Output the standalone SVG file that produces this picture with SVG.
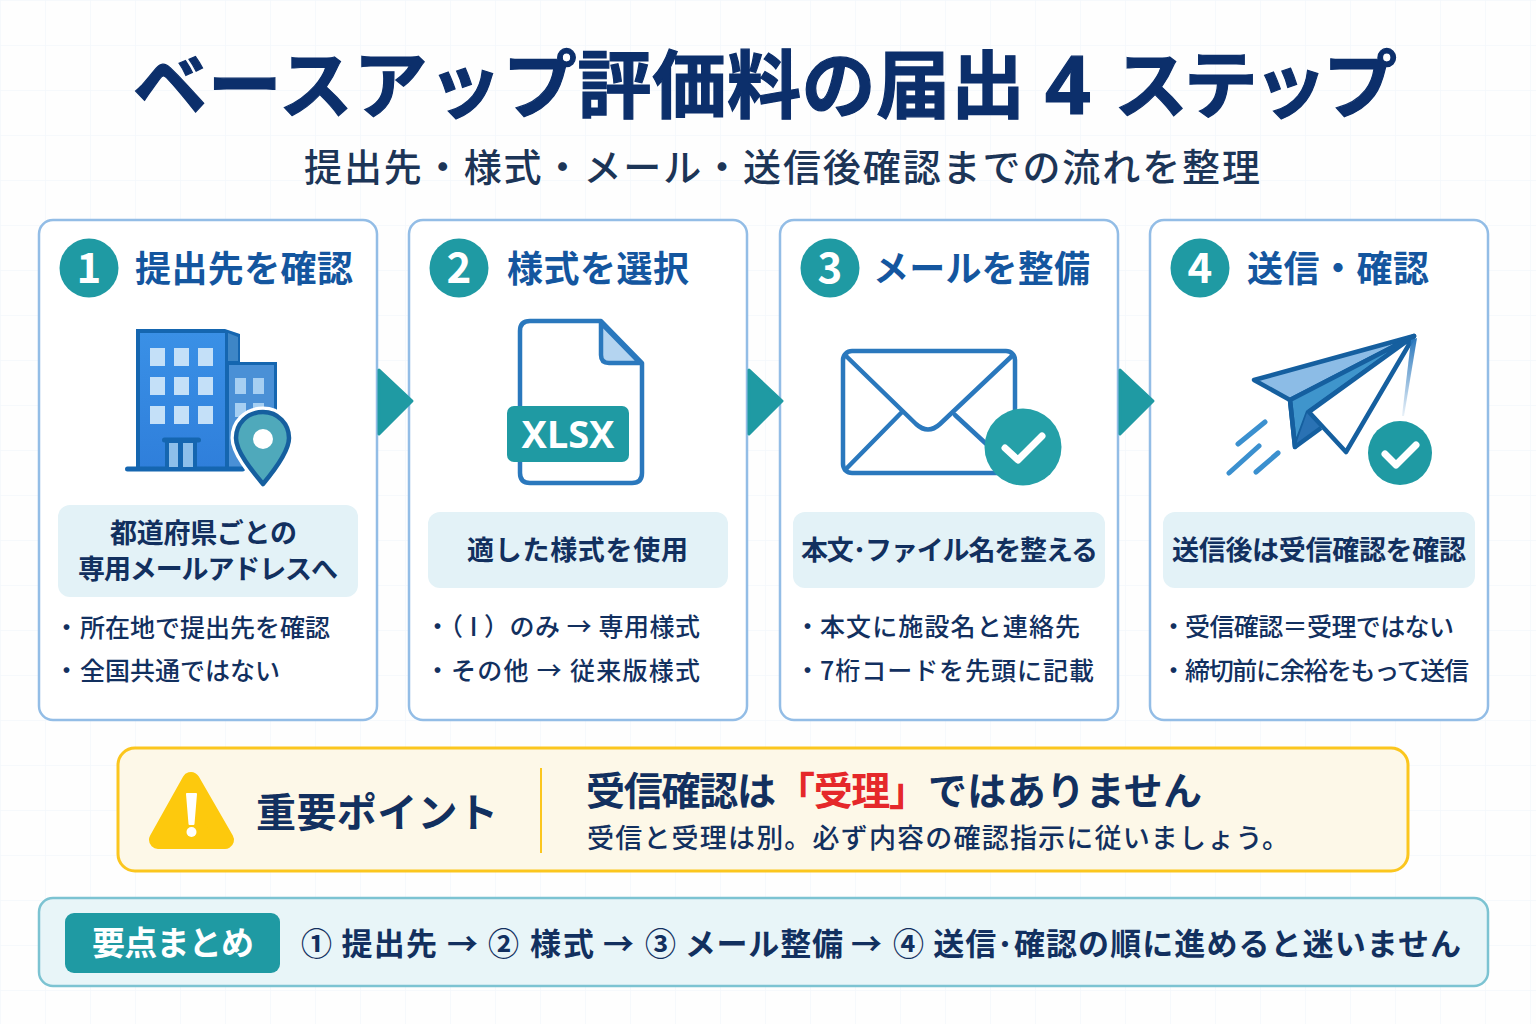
<svg xmlns="http://www.w3.org/2000/svg" width="1536" height="1024" viewBox="0 0 1536 1024">
<style>
text{font-family:"Noto Sans CJK JP","Noto Sans",sans-serif}
.card{fill:#fff;stroke:#93bde6;stroke-width:2.5}
.num{fill:#1f9aa3}
.numt{fill:#fff;font-size:42px;font-weight:700;text-anchor:middle}
.head{fill:#14569f;font-size:36px;font-weight:700}
.pill{fill:#e3f2f7}
.pt{fill:#12305f;font-size:27px;font-weight:600}
.bul{fill:#12305f;font-size:25px;font-weight:500}
.arrow{fill:#1f9aa3;stroke:#1f9aa3;stroke-width:3;stroke-linejoin:round}
.ln{fill:none;stroke:#2a78bd;stroke-width:4.5;stroke-linejoin:round;stroke-linecap:round}
.chk{fill:none;stroke:#fff;stroke-width:7;stroke-linecap:round;stroke-linejoin:round}
.ttl{font-size:74px;font-weight:700;fill:#0c2f6b;stroke:#0c2f6b;stroke-width:1.2}
.imp{font-size:39px;font-weight:700;fill:#12305f}
.sum{font-size:31px;font-weight:600;fill:#12305f}
</style>
<defs>
<pattern id="grid" width="45" height="45" patternUnits="userSpaceOnUse"><path d="M45 0H0V45" fill="none" stroke="#f4f8fc" stroke-width="1.5"/></pattern>
<linearGradient id="bld" x1="0" y1="0" x2="0" y2="1"><stop offset="0" stop-color="#3a90e6"/><stop offset="1" stop-color="#2f7fdb"/></linearGradient>
<linearGradient id="streak" x1="0" y1="0" x2="0" y2="1"><stop offset="0" stop-color="#2a78bd"/><stop offset="1" stop-color="#2a78bd" stop-opacity="0.1"/></linearGradient>
</defs>
<rect width="1536" height="1024" fill="#fefefe"/>
<rect width="1536" height="1024" fill="url(#grid)"/>
<g id="title">
<text class="ttl" x="133" y="112" textLength="892">ベースアップ評価料の届出</text>
<text class="ttl" x="1045" y="114" style="font-family:'Noto Sans',sans-serif;font-size:80px">4</text>
<text class="ttl" x="1114" y="112" textLength="283">ステップ</text>
<text x="304" y="181" font-size="38" font-weight="500" fill="#1c3557" textLength="956">提出先・様式・メール・送信後確認までの流れを整理</text>
</g>
<g id="step1">
<rect class="card" x="39" y="220" width="338" height="500" rx="14"/>
<circle class="num" cx="89" cy="268" r="29.500"/><text class="numt" x="89" y="283">1</text>
<text class="head" x="135" y="282" textLength="218">提出先を確認</text>
<g id="icon-building">
<path d="M136 329H225L240 334V362H277V468H136Z" fill="#1566b0"/>
<rect x="140" y="333" width="85" height="134" fill="url(#bld)"/>
<path d="M228 333L238 337V361H228Z" fill="#3e86c6"/>
<rect x="229" y="365" width="45" height="102" fill="#4a90d6"/>
<g fill="#c4e0f8"><rect x="150" y="348" width="15" height="18"/><rect x="174" y="348" width="15" height="18"/><rect x="198" y="348" width="15" height="18"/><rect x="150" y="377" width="15" height="18"/><rect x="174" y="377" width="15" height="18"/><rect x="198" y="377" width="15" height="18"/><rect x="150" y="406" width="15" height="18"/><rect x="174" y="406" width="15" height="18"/><rect x="198" y="406" width="15" height="18"/></g>
<g fill="#a6cff2"><rect x="235" y="378" width="11" height="16"/><rect x="253" y="378" width="11" height="16"/><rect x="235" y="403" width="11" height="14"/><rect x="253" y="403" width="11" height="14"/></g>
<rect x="125" y="466.500" width="120" height="5" rx="2.500" fill="#1566b0"/>
<rect x="162" y="437.500" width="39" height="5" rx="2.500" fill="#1566b0"/>
<path d="M165 441H197V468H165Z" fill="#1566b0"/><rect x="169" y="443" width="9" height="24" fill="#8dbfea"/><rect x="183" y="443" width="10" height="24" fill="#8dbfea"/>
<path d="M263 412C247 412 236 424 236 438C236 452 253 472 263 484C273 472 289 452 289 438C289 424 278 412 263 412Z" fill="#4fa9bb" stroke="#fff" stroke-width="11" stroke-linejoin="round"/>
<path d="M263 412C247 412 236 424 236 438C236 452 253 472 263 484C273 472 289 452 289 438C289 424 278 412 263 412Z" fill="#4fa9bb" stroke="#155f9f" stroke-width="4.500" stroke-linejoin="round"/>
<circle cx="263" cy="439" r="10" fill="#fff"/>
</g>
<rect class="pill" x="58" y="505" width="300" height="92" rx="12"/>
<text class="pt" x="110" y="543" textLength="187">都道府県ごとの</text>
<text class="pt" x="78" y="579" textLength="260">専用メールアドレスへ</text>
<text class="bul" x="54" y="637">・</text><text class="bul" x="80" y="637" textLength="250">所在地で提出先を確認</text>
<text class="bul" x="54" y="680">・</text><text class="bul" x="80" y="680" textLength="200">全国共通ではない</text>
</g>
<g id="step2">
<rect class="card" x="409" y="220" width="338" height="500" rx="14"/>
<circle class="num" cx="459" cy="268" r="29.500"/><text class="numt" x="459" y="283">2</text>
<text class="head" x="507" y="282" textLength="182">様式を選択</text>
<g id="icon-xlsx">
<path class="ln" d="M530 321H601L642 363V473Q642 483 632 483H530Q520 483 520 473V331Q520 321 530 321Z" fill="#fff"/>
<path d="M601 323V355Q601 363 609 363H640Z" fill="#b4d4f0" stroke="#2a78bd" stroke-width="4.500" stroke-linejoin="round"/>
<rect x="507" y="406" width="122" height="56" rx="7" fill="#1f9aa3"/>
<text x="568" y="448" font-size="38" font-weight="700" fill="#fff" text-anchor="middle" style="font-family:'Noto Sans','Liberation Sans',sans-serif" textLength="93">XLSX</text>
</g>
<rect class="pill" x="428" y="512" width="300" height="76" rx="12"/>
<text class="pt" x="467" y="560" textLength="221">適した様式を使用</text>
<text class="bul" x="425" y="636" textLength="275">・（ I ）のみ → 専用様式</text>
<text class="bul" x="425" y="680">・</text><text class="bul" x="451" y="680" textLength="249">その他 → 従来版様式</text>
</g>
<g id="step3">
<rect class="card" x="780" y="220" width="338" height="500" rx="14"/>
<circle class="num" cx="830" cy="268" r="29.500"/><text class="numt" x="830" y="283">3</text>
<text class="head" x="873" y="282" textLength="217">メールを整備</text>
<g id="icon-mail">
<rect class="ln" x="843" y="351" width="172" height="122" rx="9" fill="#f6fbfe"/>
<path class="ln" d="M845 355L916 424Q928 435 940 424L1013 355M902 412L845 470M955 415L995 452"/>
<circle cx="1023" cy="447" r="38.500" fill="#25a0a8"/>
<path class="chk" d="M1005 448L1018 460L1042 436" stroke-width="8"/>
</g>
<rect class="pill" x="793" y="512" width="312" height="76" rx="12"/>
<text class="pt" x="801" y="560" textLength="297">本文･ファイル名を整える</text>
<text class="bul" x="795" y="636">・</text><text class="bul" x="820" y="636" textLength="260">本文に施設名と連絡先</text>
<text class="bul" x="795" y="680">・</text><text class="bul" x="820" y="680" textLength="274">7桁コードを先頭に記載</text>
</g>
<g id="step4">
<rect class="card" x="1150" y="220" width="338" height="500" rx="14"/>
<circle class="num" cx="1200" cy="268" r="29.500"/><text class="numt" x="1200" y="283">4</text>
<text class="head" x="1247" y="282" textLength="182">送信・確認</text>
<g id="icon-plane">
<path d="M1414 336L1254 380L1290 400Z" fill="#8cbce6" stroke="#155f9f" stroke-width="4.500" stroke-linejoin="round"/>
<path d="M1414 336L1290 400L1295 447L1308 412Z" fill="#3f95cc" stroke="#155f9f" stroke-width="4.500" stroke-linejoin="round"/>
<path d="M1308 410L1295 447L1321 428Z" fill="#2a72b4"/>
<path d="M1414 336L1309 412L1346 452Z" fill="#fff" stroke="#155f9f" stroke-width="4.500" stroke-linejoin="round"/>
<path d="M1290 400L1295 447L1321 428" fill="none" stroke="#155f9f" stroke-width="4.500" stroke-linejoin="round"/>
<path d="M1411 340L1402 416L1404 416L1417 338Z" fill="url(#streak)"/>
<path d="M1238 444L1265 422M1229 473L1259 446M1256 472L1278 453" fill="none" stroke="#3b90cf" stroke-width="5" stroke-linecap="round"/>
<circle cx="1400" cy="453" r="32" fill="#1f9aa3"/>
<path class="chk" d="M1385 454L1396 465L1416 445"/>
</g>
<rect class="pill" x="1163" y="512" width="312" height="76" rx="12"/>
<text class="pt" x="1172" y="560" textLength="294">送信後は受信確認を確認</text>
<text class="bul" x="1161" y="636">・</text><text class="bul" x="1185" y="636" textLength="269">受信確認＝受理ではない</text>
<text class="bul" x="1161" y="680">・</text><text class="bul" x="1185" y="680" textLength="284">締切前に余裕をもって送信</text>
</g>
<g id="connectors">
<path class="arrow" d="M379 370L412 401L379 434Z"/>
<path class="arrow" d="M749 370L782 401L749 434Z"/>
<path class="arrow" d="M1120 370L1153 401L1120 434Z"/>
</g>
<g id="important">
<rect x="118" y="748" width="1290" height="123" rx="17" fill="#fdf8e8" stroke="#fbc61e" stroke-width="3"/>
<path d="M191 781L225 840H158Z" fill="#fdc90d" stroke="#fdc90d" stroke-width="18" stroke-linejoin="round"/>
<path d="M187 794H196L193.500 824H189.500Z" fill="#fff" stroke="#fff" stroke-width="2" stroke-linejoin="round"/><circle cx="191.500" cy="832" r="5" fill="#fff"/>
<text x="256" y="827" font-size="40" font-weight="700" fill="#12305f" textLength="242">重要ポイント</text>
<rect x="540" y="768" width="2" height="85" fill="#fbc61e"/>
<text class="imp" x="586" y="805" textLength="190">受信確認は</text>
<text class="imp" x="776" y="805" style="fill:#e5282a" textLength="152">「受理」</text>
<text class="imp" x="928" y="805" textLength="274">ではありません</text>
<text x="587" y="848" font-size="27" font-weight="500" fill="#12305f" textLength="702">受信と受理は別。必ず内容の確認指示に従いましょう。</text>
</g>
<g id="summary">
<rect x="39" y="898" width="1449" height="88" rx="14" fill="#e8f5f8" stroke="#7cc3d2" stroke-width="2.500"/>
<rect x="65" y="913" width="215" height="60" rx="9" fill="#1f9aa3"/>
<text x="92" y="955" font-size="33" font-weight="700" fill="#fff" textLength="162">要点まとめ</text>
<text class="sum" x="301" y="955" textLength="136">① 提出先</text>
<text class="sum" x="447" y="955" textLength="30">→</text>
<text class="sum" x="488" y="955" textLength="106">② 様式</text>
<text class="sum" x="603" y="955" textLength="30">→</text>
<text class="sum" x="645" y="955" textLength="198">③ メール整備</text>
<text class="sum" x="851" y="955" textLength="30">→</text>
<text class="sum" x="893" y="955" textLength="568">④ 送信･確認の順に進めると迷いません</text>
</g>
</svg>
